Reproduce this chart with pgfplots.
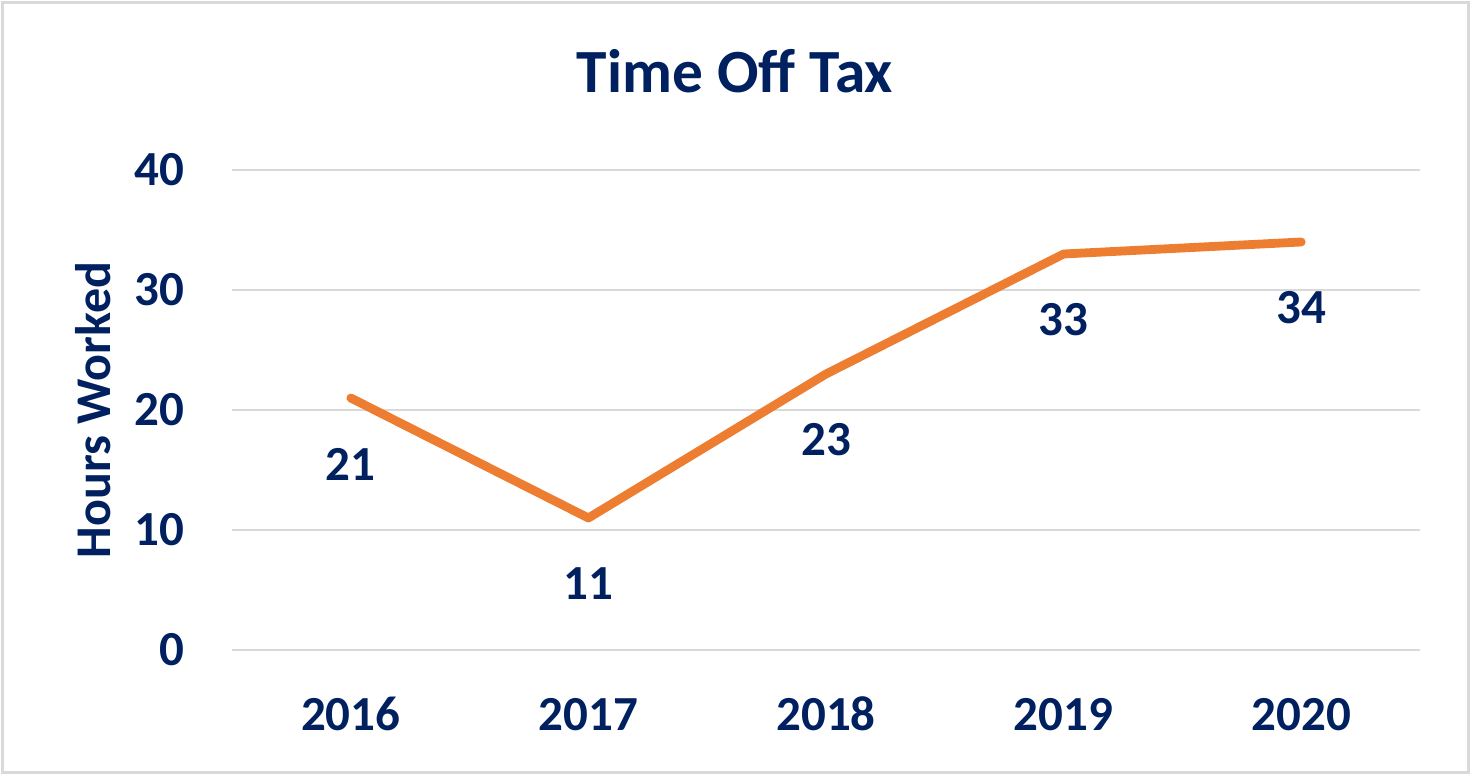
\documentclass[border=0pt]{standalone}
\usepackage{pgfplots}
\pgfplotsset{compat=1.18}
\usepackage{fontspec}
\setmainfont{Carlito}

\definecolor{navy}{HTML}{002060}
\definecolor{orangeline}{HTML}{ED7D31}
\definecolor{gridgray}{HTML}{D9D9D9}

\begin{document}
\begin{tikzpicture}
% page frame (1px = 0.5pt)
\useasboundingbox (-116pt,-62.5pt) rectangle (619.5pt,325pt);
\draw[gridgray, line width=1.2pt] (-114.8pt,-61.3pt) rectangle (618.3pt,323.8pt);

\begin{axis}[
    at={(0,0)}, anchor=south west,
    scale only axis,
    width=594pt, height=240pt,
    xmin=-0.5, xmax=4.5,
    ymin=0, ymax=40,
    xtick={0,1,2,3,4},
    xticklabels={2016,2017,2018,2019,2020},
    ytick={0,10,20,30,40},
    axis line style={draw=none},
    major tick length=0pt,
    ymajorgrids=true,
    grid style={gridgray, line width=1pt},
    /pgf/number format/assume math mode=true,
    ticklabel style={font=\fontsize{24.5}{24.5}\selectfont\bfseries, text=navy, inner sep=0pt},
    yticklabel style={anchor=east, xshift=-23.5pt},
    xticklabel style={anchor=base, yshift=-40.5pt},
    clip=false,
]
\addplot[
    color=orangeline, line width=4.4pt, line join=round, line cap=round,
    nodes near coords,
    every node near coord/.append style={
        anchor=center, yshift=-33pt, inner sep=0pt,
        font=\fontsize{24.5}{24.5}\selectfont\bfseries, text=navy},
    /pgf/number format/assume math mode=true,
] coordinates {
    (0,21) (1,11) (2,23) (3,33) (4,34)
};
\end{axis}

\node[anchor=base, font=\fontsize{30.7}{30.7}\selectfont\bfseries, text=navy]
    at (251.5pt,278.5pt) {Time Off Tax};
\node[rotate=90, font=\fontsize{25}{25}\selectfont\bfseries, text=navy]
    at (-69.5pt,120pt) {Hours Worked};
\end{tikzpicture}
\end{document}
